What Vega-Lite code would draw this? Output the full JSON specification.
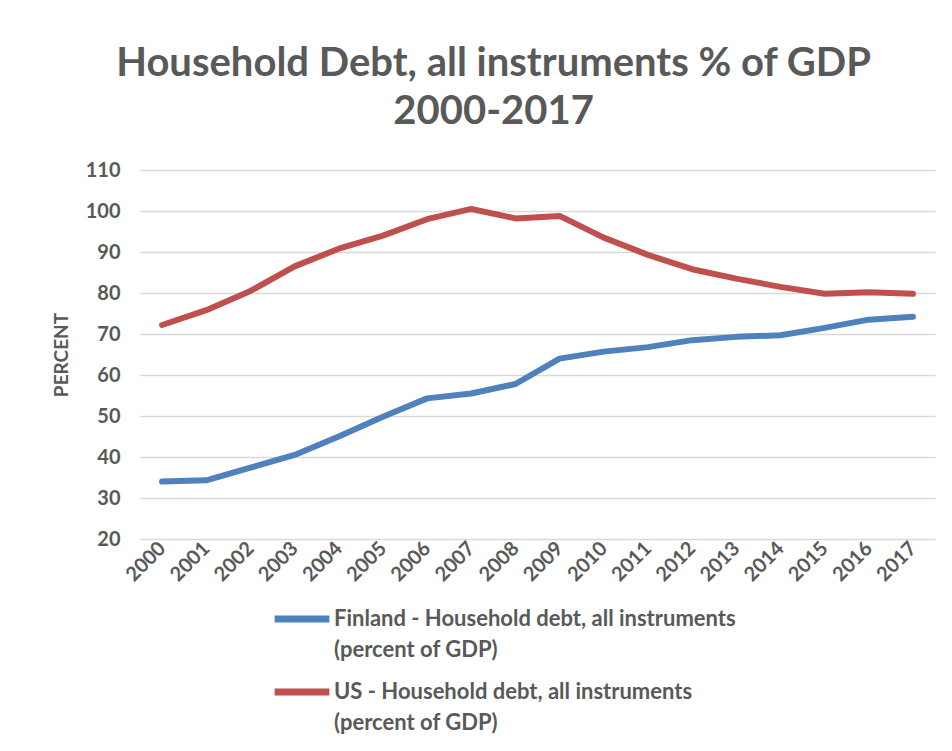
{
  "$schema": "https://vega.github.io/schema/vega-lite/v6.json",
  "width": 795,
  "height": 369,
  "autosize": {"type": "none"},
  "padding": {"left": 140, "top": 170, "right": 17, "bottom": 212},
  "background": "white",
  "title": {
    "text": ["Household Debt, all instruments % of GDP", "2000-2017"],
    "frame": "bounds",
    "anchor": "middle",
    "fontSize": 40,
    "fontWeight": "bold",
    "font": "Lato",
    "color": "#595959",
    "lineHeight": 48,
    "offset": 28
  },
  "data": {
    "values": [
      {"year": "2000", "series": "Finland - Household debt, all instruments (percent of GDP)", "value": 34.0},
      {"year": "2001", "series": "Finland - Household debt, all instruments (percent of GDP)", "value": 34.3},
      {"year": "2002", "series": "Finland - Household debt, all instruments (percent of GDP)", "value": 37.4},
      {"year": "2003", "series": "Finland - Household debt, all instruments (percent of GDP)", "value": 40.5},
      {"year": "2004", "series": "Finland - Household debt, all instruments (percent of GDP)", "value": 45.0},
      {"year": "2005", "series": "Finland - Household debt, all instruments (percent of GDP)", "value": 49.8},
      {"year": "2006", "series": "Finland - Household debt, all instruments (percent of GDP)", "value": 54.3},
      {"year": "2007", "series": "Finland - Household debt, all instruments (percent of GDP)", "value": 55.5},
      {"year": "2008", "series": "Finland - Household debt, all instruments (percent of GDP)", "value": 57.8},
      {"year": "2009", "series": "Finland - Household debt, all instruments (percent of GDP)", "value": 64.0},
      {"year": "2010", "series": "Finland - Household debt, all instruments (percent of GDP)", "value": 65.7},
      {"year": "2011", "series": "Finland - Household debt, all instruments (percent of GDP)", "value": 66.8},
      {"year": "2012", "series": "Finland - Household debt, all instruments (percent of GDP)", "value": 68.5},
      {"year": "2013", "series": "Finland - Household debt, all instruments (percent of GDP)", "value": 69.3},
      {"year": "2014", "series": "Finland - Household debt, all instruments (percent of GDP)", "value": 69.7},
      {"year": "2015", "series": "Finland - Household debt, all instruments (percent of GDP)", "value": 71.5},
      {"year": "2016", "series": "Finland - Household debt, all instruments (percent of GDP)", "value": 73.5},
      {"year": "2017", "series": "Finland - Household debt, all instruments (percent of GDP)", "value": 74.2},
      {"year": "2000", "series": "US - Household debt, all instruments (percent of GDP)", "value": 72.2},
      {"year": "2001", "series": "US - Household debt, all instruments (percent of GDP)", "value": 75.8},
      {"year": "2002", "series": "US - Household debt, all instruments (percent of GDP)", "value": 80.5},
      {"year": "2003", "series": "US - Household debt, all instruments (percent of GDP)", "value": 86.5},
      {"year": "2004", "series": "US - Household debt, all instruments (percent of GDP)", "value": 90.8},
      {"year": "2005", "series": "US - Household debt, all instruments (percent of GDP)", "value": 94.0},
      {"year": "2006", "series": "US - Household debt, all instruments (percent of GDP)", "value": 98.0},
      {"year": "2007", "series": "US - Household debt, all instruments (percent of GDP)", "value": 100.5},
      {"year": "2008", "series": "US - Household debt, all instruments (percent of GDP)", "value": 98.2},
      {"year": "2009", "series": "US - Household debt, all instruments (percent of GDP)", "value": 98.8},
      {"year": "2010", "series": "US - Household debt, all instruments (percent of GDP)", "value": 93.5},
      {"year": "2011", "series": "US - Household debt, all instruments (percent of GDP)", "value": 89.3},
      {"year": "2012", "series": "US - Household debt, all instruments (percent of GDP)", "value": 85.8},
      {"year": "2013", "series": "US - Household debt, all instruments (percent of GDP)", "value": 83.5},
      {"year": "2014", "series": "US - Household debt, all instruments (percent of GDP)", "value": 81.5},
      {"year": "2015", "series": "US - Household debt, all instruments (percent of GDP)", "value": 79.8},
      {"year": "2016", "series": "US - Household debt, all instruments (percent of GDP)", "value": 80.2},
      {"year": "2017", "series": "US - Household debt, all instruments (percent of GDP)", "value": 79.8}
    ]
  },
  "mark": {"type": "line", "strokeWidth": 6, "strokeCap": "round", "strokeJoin": "round"},
  "encoding": {
    "x": {
      "field": "year",
      "type": "ordinal",
      "scale": {"type": "point", "padding": 0.5},
      "axis": {
        "title": null,
        "labelAngle": -45,
        "labelAlign": "right",
        "labelBaseline": "middle",
        "labelFontSize": 20,
        "labelFontWeight": "bold",
        "labelColor": "#595959",
        "labelPadding": 6,
        "ticks": false,
        "domain": false,
        "grid": false
      }
    },
    "y": {
      "field": "value",
      "type": "quantitative",
      "scale": {"domain": [20, 110], "nice": false},
      "axis": {
        "title": "PERCENT",
        "titleFontSize": 19,
        "titleFontWeight": "bold",
        "titleColor": "#595959",
        "titlePadding": 14,
        "values": [20, 30, 40, 50, 60, 70, 80, 90, 100, 110],
        "labelFontSize": 20,
        "labelFontWeight": "bold",
        "labelColor": "#595959",
        "labelPadding": 20,
        "ticks": false,
        "domain": false,
        "grid": true,
        "gridColor": "#d9d9d9",
        "gridWidth": 1.5
      }
    },
    "color": {
      "field": "series",
      "type": "nominal",
      "scale": {
        "domain": ["Finland - Household debt, all instruments (percent of GDP)", "US - Household debt, all instruments (percent of GDP)"],
        "range": ["#4F81BD", "#C0504D"]
      },
      "legend": {
        "title": null,
        "orient": "none",
        "legendX": 131,
        "legendY": 418,
        "direction": "vertical",
        "symbolType": "stroke",
        "symbolSize": 3000,
        "symbolStrokeWidth": 7,
        "labelFontSize": 22,
        "labelFontWeight": "bold",
        "labelColor": "#595959",
        "labelLimit": 700,
        "labelBaseline": "middle",
        "labelOffset": 1,
        "rowPadding": -5,
        "labelExpr": "[slice(datum.label, 0, indexof(datum.label, ' (')), slice(datum.label, indexof(datum.label, ' (') + 1)]",
        "encode": {
          "labels": {"update": {"lineHeight": {"value": 31}}}
        }
      }
    }
  },
  "config": {
    "font": "Lato",
    "view": {"stroke": null}
  }
}
